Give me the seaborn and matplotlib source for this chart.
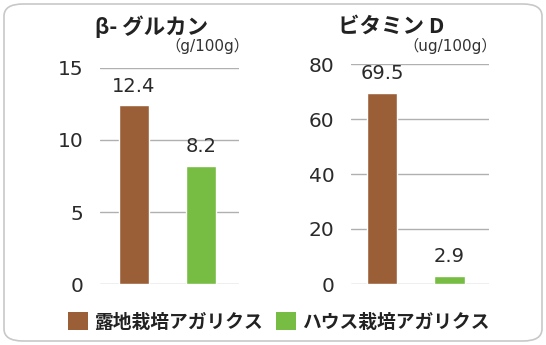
import matplotlib
matplotlib.use("Agg")
import matplotlib.pyplot as plt
import seaborn as sns
import pandas as pd
from matplotlib.patches import FancyBboxPatch, Patch

categories = ['露地栽培アガリクス', 'ハウス栽培アガリクス']
beta_glucan = [12.4, 8.2]
vitamin_d = [69.5, 2.9]
labels_beta = ['12.4', '8.2']
labels_vitd = ['69.5', '2.9']
titles = ['β- グルカン', 'ビタミン D']
units = ['（g/100g）', '（ug/100g）']
beta_ticks = [0, 5, 10, 15]
vitd_ticks = [0, 20, 40, 60, 80]
colors = ['#9b5f38', '#77bd43']

sns.set_theme(style="white")
plt.rcParams['font.family'] = ['DejaVu Sans', 'Noto Sans CJK JP']

W, H = 546, 345
fig = plt.figure(figsize=(W / 100, H / 100), dpi=100)

# rounded frame
frame = FancyBboxPatch((4 / W, 4 / H), 538 / W, 337 / H,
                       boxstyle="round,pad=0,rounding_size=0.035",
                       transform=fig.transFigure, facecolor='white',
                       edgecolor='#c8c8c8', linewidth=1.2, zorder=-10)
fig.patches.append(frame)

def px_axes(x0, x1, ytop, ybot):
    return fig.add_axes([x0 / W, (H - ybot) / H, (x1 - x0) / W, (ybot - ytop) / H])

palette = dict(zip(categories, colors))

def draw(ax, values, labels, ticks, ymax, xlim):
    df = pd.DataFrame({'cat': categories, 'val': values})
    sns.barplot(data=df, x='cat', y='val', hue='cat', palette=palette,
                legend=False, width=0.45, ax=ax, saturation=1, zorder=3)
    ax.set_ylim(0, ymax)
    ax.set_xlim(*xlim)
    ax.set_yticks(ticks)
    ax.set_yticklabels([str(t) for t in ticks], fontsize=14.5, color='#2a2a2a')
    ax.set_xticks([])
    ax.set_xlabel('')
    ax.set_ylabel('')
    for s in ax.spines.values():
        s.set_visible(False)
    ax.set_facecolor('none')
    ax.yaxis.grid(True, color='#b0b0b0', linewidth=1.0, zorder=0)
    ax.xaxis.grid(False)
    ax.tick_params(axis='y', length=0, pad=12)
    for i, (v, lab) in enumerate(zip(values, labels)):
        ax.annotate(lab, (i, v), xytext=(0, 7), textcoords='offset points',
                    ha='center', va='bottom', fontsize=14, color='#2a2a2a')

ax1 = px_axes(100, 239, 68, 284)
draw(ax1, beta_glucan, labels_beta, beta_ticks, 15, (-0.507, 1.567))
ax2 = px_axes(351, 489, 64, 284)
draw(ax2, vitamin_d, labels_vitd, vitd_ticks, 80, (-0.459, 1.585))

cjk = ['Noto Sans CJK JP', 'DejaVu Sans']
lat = ['DejaVu Sans', 'Noto Sans CJK JP']
fig.text(152 / W, 1 - 27 / H, titles[0], ha='center', va='center',
         fontsize=15.5, fontweight='bold', family=cjk, color='#222222')
fig.text(391 / W, 1 - 26 / H, titles[1], ha='center', va='center',
         fontsize=15.5, fontweight='bold', family=cjk, color='#222222')
fig.text(249 / W, 1 - 46 / H, units[0], ha='right', va='center',
         fontsize=11, family=lat, color='#333333')
fig.text(497 / W, 1 - 46 / H, units[1], ha='right', va='center',
         fontsize=11, family=lat, color='#333333')

handles = [Patch(facecolor=c, edgecolor='none') for c in colors]
leg = fig.legend(handles, categories, loc='center', bbox_to_anchor=(279 / W, 1 - 322 / H),
                 ncol=2, frameon=False, prop={'family': cjk, 'weight': 'bold', 'size': 13.5},
                 handlelength=1.05, handleheight=1.05, handletextpad=0.35,
                 columnspacing=0.7, borderaxespad=0)
for t in leg.get_texts():
    t.set_color('#222222')

fig.savefig('out.png', dpi=100)
